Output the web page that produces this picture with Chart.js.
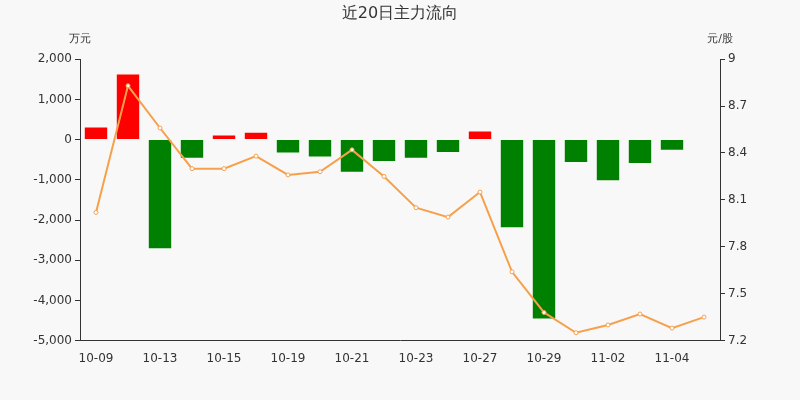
<!DOCTYPE html>
<html><head><meta charset="utf-8">
<script src="https://cdn.jsdelivr.net/npm/chart.js@4"></script>
<style>body{margin:0;background:#f8f8f8}#wrap{width:800px;height:400px;position:relative}</style>
</head><body><div id="wrap"><canvas id="c"></canvas></div>
<script>
const dates = ['10-09','10-12','10-13','10-14','10-15','10-16','10-19','10-20','10-21','10-22','10-23','10-26','10-27','10-28','10-29','10-30','11-02','11-03','11-04','11-05'];
const flows = [300,1620,-2700,-450,100,170,-320,-420,-800,-530,-450,-310,200,-2180,-4450,-560,-1010,-580,-250,0];
const prices = [8.02,8.83,8.56,8.30,8.30,8.38,8.26,8.28,8.42,8.25,8.05,7.99,8.15,7.64,7.38,7.25,7.30,7.37,7.28,7.35];
const font = {family:'DejaVu Sans', size:12};

const unitLabels = {
  id:'units',
  afterDraw(ch){
    const c = ch.ctx; c.save();
    c.fillStyle='#333'; c.font='11px "DejaVu Sans"'; c.textBaseline='middle';
    c.textAlign='center'; c.fillText('万元', 80, 39); c.fillText('元/股', 720, 39);
    c.restore();
  }
};

new Chart(document.getElementById('c'), {
  data:{labels:dates, datasets:[
    {type:'line', data:prices, yAxisID:'y1', borderColor:'#f7a04b', borderWidth:2, pointRadius:2,
     pointBackgroundColor:'#fff', pointBorderColor:'#f7a04b', pointBorderWidth:1, tension:0, order:0},
    {type:'bar', data:flows, yAxisID:'y', backgroundColor:flows.map(v=>v>=0?'#ff0000':'#008000'),
     categoryPercentage:0.7, barPercentage:1, order:1}
  ]},
  options:{
    responsive:true, maintainAspectRatio:false, animation:false,
    layout:{padding:{top:0,left:10,right:10,bottom:31}},
    plugins:{legend:{display:false}, tooltip:{enabled:false},
      title:{display:true, text:'近20日主力流向', color:'#333', font:{family:'DejaVu Sans', size:16, weight:'normal'}, padding:{top:4,bottom:36}}},
    scales:{
      x:{grid:{display:false}, border:{color:'#333'},
         ticks:{color:'#333', font, maxRotation:0, autoSkip:false, callback:(v,i)=>i%2===0?dates[i]:''}},
      y:{min:-5000, max:2000, position:'left', afterFit:s=>{s.width=70},
         ticks:{stepSize:1000, color:'#333', font, callback:v=>v.toLocaleString('en-US')},
         grid:{drawOnChartArea:false, tickLength:5, color:'#333'}, border:{color:'#333'}},
      y1:{min:7.2, max:9, position:'right', afterFit:s=>{s.width=70},
         ticks:{stepSize:0.3, color:'#333', font, callback:v=>+v.toFixed(1)+''},
         grid:{drawOnChartArea:false, tickLength:5, color:'#333'}, border:{color:'#333'}}
    }
  },
  plugins:[unitLabels]
});
</script></body></html>
